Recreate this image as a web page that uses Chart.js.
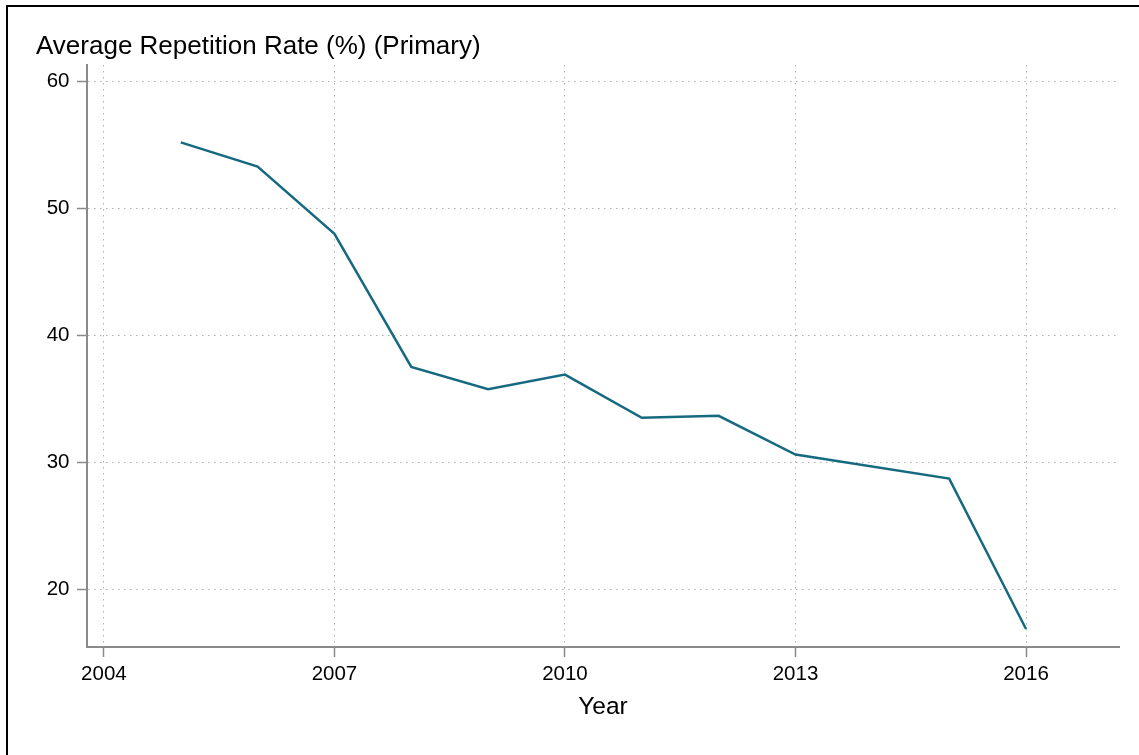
<!DOCTYPE html>
<html>
<head>
<meta charset="utf-8">
<script src="https://cdn.jsdelivr.net/npm/chart.js@4/dist/chart.umd.min.js"></script>
<style>
  html, body { margin: 0; padding: 0; background: #fff; overflow: hidden; }
  #wrap { position: relative; width: 1139px; height: 755px; }
  #c { position: absolute; left: 0; top: 0; }
  #frame { position: absolute; left: 6px; top: 5px; width: 1200px; height: 800px;
           border: 2px solid #000; pointer-events: none; }
</style>
</head>
<body>
<div id="wrap">
  <canvas id="c" width="1139" height="755"></canvas>
  <div id="frame"></div>
</div>
<script>
// ---- data ----
const years = [2005, 2006, 2007, 2008, 2009, 2010, 2011, 2012, 2013, 2015, 2016];
const rates = [55.2, 53.3, 48.0, 37.5, 35.75, 36.9, 33.5, 33.65, 30.6, 28.7, 16.85];
const xTickValues = [2004, 2007, 2010, 2013, 2016];
const yTickValues = [20, 30, 40, 50, 60];
const titleText = 'Average Repetition Rate (%) (Primary)';
const xTitle = 'Year';

const FONT = "'Liberation Sans', Arial, Helvetica, sans-serif";
const points = years.map((y, i) => ({ x: y, y: rates[i] }));

new Chart(document.getElementById('c'), {
  type: 'line',
  data: {
    datasets: [{
      data: points,
      borderColor: '#166a80',
      borderWidth: 2.5,
      pointRadius: 0,
      tension: 0,
      fill: false
    }]
  },
  options: {
    responsive: false,
    animation: false,
    layout: { padding: { left: 36, right: 20, top: 0, bottom: 0 } },
    plugins: {
      legend: { display: false },
      tooltip: { enabled: false },
      title: {
        display: true,
        text: titleText,
        align: 'start',
        color: '#000',
        font: { family: FONT, size: 26, weight: 'normal', lineHeight: 1.2 },
        padding: { top: 31, bottom: 2.8 }
      }
    },
    scales: {
      x: {
        type: 'linear',
        min: 2003.78,
        max: 2017.21,
        afterBuildTicks: (s) => { s.ticks = xTickValues.map(v => ({ value: v })); },
        afterFit: (s) => { s.height = 108; },
        ticks: {
          color: '#000',
          font: { family: FONT, size: 20.5 },
          padding: 5.5,
          maxRotation: 0,
          autoSkip: false,
          callback: (v) => String(v)
        },
        grid: {
          color: '#b0b0b0',
          lineWidth: 1,
          tickLength: 10,
          tickColor: '#8a8a8a',
          tickWidth: 1.5
        },
        border: { display: true, color: '#8a8a8a', width: 2, dash: [1.5, 4.5] },
        title: {
          display: true,
          text: xTitle,
          color: '#000',
          font: { family: FONT, size: 24.5 },
          padding: { top: 0, bottom: 33 }
        }
      },
      y: {
        type: 'linear',
        min: 15.43,
        max: 61.3,
        afterBuildTicks: (s) => { s.ticks = yTickValues.map(v => ({ value: v })); },
        afterFit: (s) => { s.width = 51; },
        ticks: {
          color: '#000',
          font: { family: FONT, size: 20.5 },
          padding: 7.5,
          autoSkip: false,
          callback: (v) => String(v)
        },
        grid: {
          color: '#b0b0b0',
          lineWidth: 1,
          tickLength: 10,
          tickColor: '#8a8a8a',
          tickWidth: 1.5
        },
        border: { display: true, color: '#8a8a8a', width: 2, dash: [1.5, 4.5] }
      }
    }
  }
});
</script>
</body>
</html>
